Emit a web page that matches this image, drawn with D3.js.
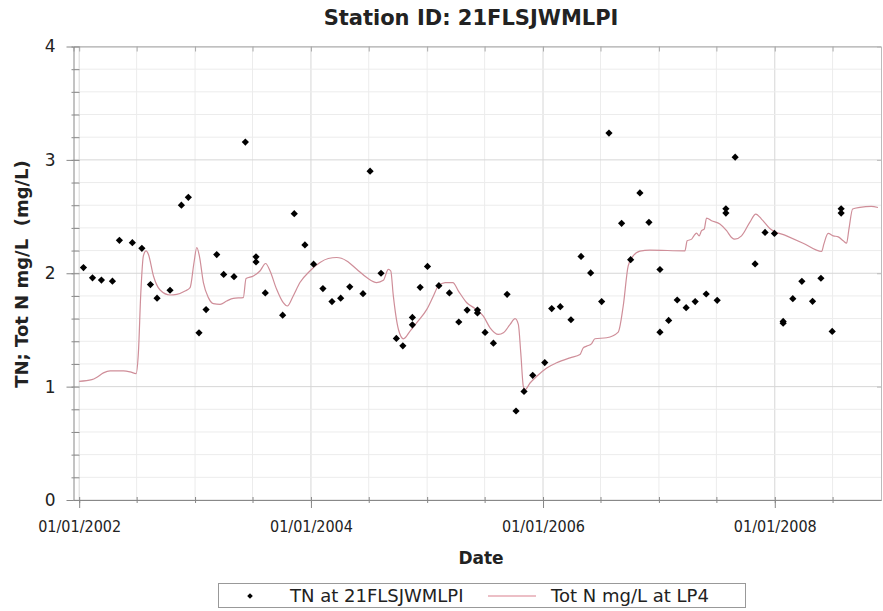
<!DOCTYPE html>
<html>
<head>
<meta charset="utf-8">
<script src="https://cdn.jsdelivr.net/npm/d3@7"></script>
<style>
  body { margin: 0; background: #fff; }
  text { font-family: 'DejaVu Sans', sans-serif; fill: #222; }
</style>
</head>
<body>
<div id="app"></div>
<script>
// sample dates are decimal years
const stationYears = [
  2002.037, 2002.115, 2002.192, 2002.287, 2002.347, 2002.459, 2002.541, 2002.615, 2002.672, 2002.784,
  2002.882, 2002.942, 2003.034, 2003.095, 2003.187, 2003.247, 2003.336, 2003.434, 2003.526, 2003.526,
  2003.606, 2003.756, 2003.856, 2003.948, 2004.023, 2004.103, 2004.181, 2004.256, 2004.334, 2004.448,
  2004.509, 2004.603, 2004.735, 2004.791, 2004.873, 2004.873, 2004.940, 2005.003, 2005.101, 2005.192,
  2005.273, 2005.345, 2005.434, 2005.434, 2005.500, 2005.572, 2005.690, 2005.767, 2005.836, 2005.911,
  2006.015, 2006.075, 2006.149, 2006.241, 2006.328, 2006.411, 2006.506, 2006.569, 2006.678, 2006.756,
  2006.836, 2006.914, 2007.009, 2007.009, 2007.084, 2007.158, 2007.235, 2007.313, 2007.408, 2007.503,
  2007.578, 2007.578, 2007.658, 2007.830, 2007.916, 2007.997, 2008.072, 2008.072, 2008.155, 2008.233,
  2008.325, 2008.397, 2008.494, 2008.571, 2008.571
]
const stationTN = [
  2.05, 1.96, 1.94, 1.93, 2.29, 2.27, 2.22, 1.90, 1.78, 1.85,
  2.60, 2.67, 1.475, 1.68, 2.165, 1.99, 1.97, 3.157, 2.145, 2.10,
  1.826, 1.63, 2.525, 2.25, 2.08, 1.865, 1.75, 1.78, 1.88, 1.82,
  2.90, 2.00, 1.425, 1.36, 1.61, 1.545, 1.876, 2.06, 1.89, 1.826,
  1.57, 1.675, 1.675, 1.65, 1.478, 1.383, 1.814, 0.785, 0.958, 1.10,
  1.212, 1.688, 1.705, 1.59, 2.148, 2.003, 1.75, 3.236, 2.44, 2.12,
  2.708, 2.449, 2.033, 1.48, 1.584, 1.764, 1.696, 1.75, 1.817, 1.761,
  2.569, 2.531, 3.024, 2.082, 2.36, 2.351, 1.575, 1.56, 1.776, 1.929,
  1.752, 1.956, 1.487, 2.569, 2.531
]

const lp4Years = [
  2002.000, 2002.109, 2002.153, 2002.209, 2002.267, 2002.382, 2002.440, 2002.491, 2002.511, 2002.532,
  2002.554, 2002.578, 2002.597, 2002.641, 2002.698, 2002.784, 2002.842, 2002.914, 2002.957, 2002.991,
  2003.015, 2003.037, 2003.072, 2003.115, 2003.158, 2003.216, 2003.273, 2003.330, 2003.416, 2003.440,
  2003.503, 2003.560, 2003.609, 2003.647, 2003.704, 2003.761, 2003.796, 2003.847, 2003.905, 2003.991,
  2004.078, 2004.149, 2004.222, 2004.308, 2004.394, 2004.480, 2004.566, 2004.623, 2004.666, 2004.687,
  2004.709, 2004.753, 2004.796, 2004.853, 2004.911, 2004.997, 2005.054, 2005.097, 2005.155, 2005.222,
  2005.270, 2005.342, 2005.414, 2005.485, 2005.543, 2005.615, 2005.658, 2005.716, 2005.759, 2005.787,
  2005.808, 2005.830, 2005.845, 2005.888, 2005.946, 2006.032, 2006.118, 2006.233, 2006.319, 2006.347,
  2006.377, 2006.420, 2006.448, 2006.549, 2006.649, 2006.692, 2006.735, 2006.778, 2006.836, 2006.922,
  2007.224, 2007.244, 2007.282, 2007.302, 2007.325, 2007.347, 2007.368, 2007.391, 2007.411, 2007.454,
  2007.526, 2007.584, 2007.627, 2007.655, 2007.713, 2007.784, 2007.836, 2007.885, 2007.957, 2008.101,
  2008.244, 2008.403, 2008.422, 2008.459, 2008.503, 2008.546, 2008.589, 2008.618, 2008.638, 2008.670,
  2008.733, 2008.830, 2008.888
]
const lp4TotN = [
  1.047, 1.062, 1.083, 1.121, 1.139, 1.139, 1.13, 1.115, 1.30, 1.83,
  2.153, 2.197, 2.168, 1.976, 1.852, 1.808, 1.814, 1.843, 1.873, 2.095,
  2.227, 2.153, 1.918, 1.785, 1.732, 1.726, 1.755, 1.779, 1.785, 1.953,
  1.976, 2.02, 2.086, 2.02, 1.858, 1.74, 1.711, 1.80, 1.918, 2.02,
  2.095, 2.13, 2.139, 2.109, 2.035, 1.962, 1.918, 1.938, 2.035, 2.02,
  1.80, 1.504, 1.422, 1.49, 1.564, 1.681, 1.80, 1.888, 1.918, 1.918,
  1.843, 1.74, 1.688, 1.622, 1.519, 1.46, 1.475, 1.549, 1.599, 1.549,
  1.298, 1.003, 0.973, 1.032, 1.091, 1.165, 1.21, 1.254, 1.283, 1.342,
  1.357, 1.38, 1.422, 1.431, 1.481, 1.711, 2.065, 2.153, 2.195, 2.204,
  2.197, 2.286, 2.301, 2.33, 2.354, 2.33, 2.375, 2.389, 2.487, 2.463,
  2.434, 2.375, 2.316, 2.301, 2.33, 2.449, 2.522, 2.478, 2.395, 2.33,
  2.265, 2.192, 2.257, 2.351, 2.33, 2.321, 2.286, 2.265, 2.389, 2.566,
  2.581, 2.59, 2.58
]

const yTicks = [0, 1, 2, 3, 4]
const titleText = 'Station ID: 21FLSJWMLPI'
const seriesNames = ['TN at 21FLSJWMLPI', 'Tot N mg/L at LP4']

const yearToDate = function (yr) {
  const y0 = Math.floor(yr)
  const start = new Date(y0, 0, 1)
  const end = new Date(y0 + 1, 0, 1)
  return new Date(+start + (yr - y0) * (end - start))
}

const drawSVG = function () {
  const w = 883
  const h = 611
  const left = 73.5
  const right = 881
  const top = 46.5
  const bottom = 500

  const svg = d3.select('#app').append('svg')
    .attr('width', w)
    .attr('height', h)

  const x = d3.scaleTime()
    .domain([yearToDate(2001.951), yearToDate(2008.914)])
    .range([left, right])
  const y = d3.scaleLinear().domain([0, 4]).range([bottom, top])

  const halfYears = d3.timeMonth.every(6).range(x.domain()[0], x.domain()[1])
  const labelYears = d3.timeYear.every(2).range(x.domain()[0], x.domain()[1])
  const minorY = y.ticks(20)

  // grid
  const grid = svg.append('g')
  grid.selectAll('.vg').data(halfYears).enter().append('line')
    .attr('x1', d => x(d)).attr('x2', d => x(d))
    .attr('y1', top).attr('y2', bottom)
    .attr('stroke', d => d.getMonth() === 0 && d.getFullYear() % 2 === 0 ? '#d6d6d6' : '#ececec')
  grid.selectAll('.hg').data(minorY).enter().append('line')
    .attr('x1', left).attr('x2', right)
    .attr('y1', d => y(d)).attr('y2', d => y(d))
    .attr('stroke', d => Number.isInteger(d) ? '#d6d6d6' : '#ececec')

  // frame top/right
  svg.append('g').attr('transform', `translate(0,${top})`)
    .call(d3.axisBottom(x).tickValues(halfYears).tickSize(5).tickFormat(''))
    .call(g => g.selectAll('path,line').attr('stroke', '#aaa'))
  svg.append('g').attr('transform', `translate(${right},0)`)
    .call(d3.axisLeft(y).tickValues(yTicks).tickSize(4).tickFormat(''))
    .call(g => g.selectAll('path,line').attr('stroke', '#bbb'))

  // left axis
  svg.append('g').attr('transform', `translate(${left},0)`)
    .call(d3.axisRight(y).tickValues(minorY).tickSize(6).tickFormat(''))
    .call(g => g.select('.domain').remove())
    .call(g => g.selectAll('line').attr('stroke', '#888'))
  svg.append('g').attr('transform', `translate(${left},0)`)
    .call(d3.axisLeft(y).tickValues(minorY).tickSizeInner(2).tickSizeOuter(0).tickFormat(''))
    .call(g => g.selectAll('path,line').attr('stroke', '#888'))
  svg.append('g').attr('transform', `translate(${left},0)`)
    .call(d3.axisLeft(y).tickValues(yTicks).tickSize(7).tickPadding(11).tickFormat(d3.format('d')))
    .call(g => g.select('.domain').remove())
    .call(g => g.selectAll('line').attr('stroke', '#888'))
    .call(g => g.selectAll('text').style('font-size', '17px').attr('fill', '#222'))

  // bottom axis
  svg.append('g').attr('transform', `translate(0,${bottom})`)
    .call(d3.axisTop(x).tickValues(halfYears).tickSize(3).tickFormat(''))
    .call(g => g.select('.domain').remove())
    .call(g => g.selectAll('line').attr('stroke', '#888'))
  svg.append('g').attr('transform', `translate(0,${bottom})`)
    .call(d3.axisBottom(x).tickValues(halfYears).tickSizeInner(3).tickSizeOuter(0).tickFormat(''))
    .call(g => g.selectAll('path,line').attr('stroke', '#888'))
  svg.append('g').attr('transform', `translate(0,${bottom})`)
    .call(d3.axisBottom(x).tickValues(labelYears).tickSize(8).tickPadding(13).tickFormat(d3.timeFormat('%m/%d/%Y')))
    .call(g => g.select('.domain').remove())
    .call(g => g.selectAll('line').attr('stroke', '#888'))
    .call(g => g.selectAll('text').style('font-family', "'DejaVu Sans Condensed', 'DejaVu Sans', sans-serif")
      .style('font-stretch', 'condensed').style('font-size', '16px').attr('fill', '#222'))

  // LP4 line
  const lineData = lp4Years.map((yr, i) => ({ date: yearToDate(yr), v: lp4TotN[i] }))
  const line = d3.line().x(d => x(d.date)).y(d => y(d.v)).curve(d3.curveMonotoneX)
  svg.append('path')
    .datum(lineData)
    .attr('d', line)
    .attr('fill', 'none')
    .attr('stroke', '#cf8e99')
    .attr('stroke-width', 1.2)

  // station samples
  const pts = stationYears.map((yr, i) => ({ date: yearToDate(yr), v: stationTN[i] }))
  const diamond = d3.symbol(d3.symbolSquare, 26)
  svg.append('g').selectAll('path').data(pts).enter().append('path')
    .attr('d', diamond)
    .attr('transform', d => `translate(${x(d.date)},${y(d.v)}) rotate(45)`)
    .attr('fill', '#000')

  // titles
  svg.append('text')
    .attr('x', 471).attr('y', 25)
    .attr('text-anchor', 'middle')
    .style('font-size', '21px').style('font-weight', 'bold')
    .text(titleText)
  svg.append('text')
    .attr('transform', 'translate(28,274) rotate(-90)')
    .attr('text-anchor', 'middle')
    .style('font-size', '18px').style('font-weight', 'bold')
    .style('white-space', 'pre')
    .text('TN; Tot N mg/L  (mg/L)')
  svg.append('text')
    .attr('x', 481).attr('y', 564)
    .attr('text-anchor', 'middle')
    .style('font-size', '17px').style('font-weight', 'bold')
    .text('Date')

  // legend
  const lg = svg.append('g')
  lg.append('rect')
    .attr('x', 218.5).attr('y', 583.5).attr('width', 527).attr('height', 24)
    .attr('fill', '#fff').attr('stroke', '#999')
  lg.append('path')
    .attr('d', d3.symbol(d3.symbolSquare, 16))
    .attr('transform', 'translate(250,596) rotate(45)')
    .attr('fill', '#000')
  lg.append('text')
    .attr('x', 290).attr('y', 602)
    .style('font-size', '18px')
    .text(seriesNames[0])
  lg.append('line')
    .attr('x1', 488).attr('x2', 536).attr('y1', 596).attr('y2', 596)
    .attr('stroke', '#d9808e').attr('stroke-width', 1.2)
  lg.append('text')
    .attr('x', 551).attr('y', 602)
    .style('font-size', '18px')
    .text(seriesNames[1])
}

window.addEventListener('load', function () {
  drawSVG()
})
</script>
</body>
</html>
